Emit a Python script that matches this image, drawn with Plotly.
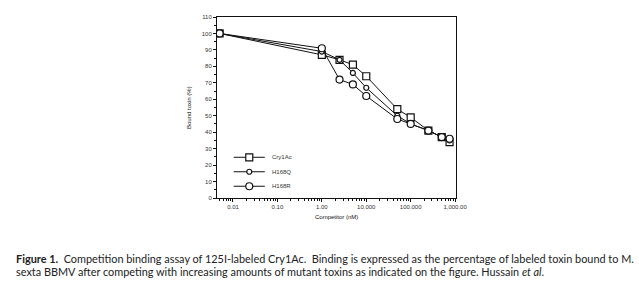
import plotly.graph_objects as go

x_conc = [0.005, 1, 2.5, 5, 10, 50, 100, 250, 500, 750]
cry1ac = [100, 87, 84, 81, 74, 54, 49, 41, 37, 34]
h168q = [100, 89, 84, 76, 67, 50, 45, 41, 37, 35]
h168r = [100, 91, 72, 69, 62, 48, 45, 41, 37, 36]

series_names = ["Cry1Ac", "H168Q", "H168R"]
x_tickvals = [0.01, 0.1, 1, 10, 100, 1000]
x_ticktext = ["0.01", "0.10", "1.00", "10.000", "100.000", "1,000.00"]
y_tickvals = list(range(0, 111, 10))

small = "Liberation Sans Narrow, Liberation Sans, Arial"
tick_font = dict(family=small, size=6, color="#333")

marker_styles = [dict(symbol="square", size=7), dict(symbol="circle", size=5), dict(symbol="circle", size=7)]

fig = go.Figure()
for name, ys, mk in zip(series_names, [cry1ac, h168q, h168r], marker_styles):
    fig.add_trace(go.Scatter(
        x=x_conc, y=ys, name=name, mode="lines+markers", showlegend=False,
        line=dict(color="#111", width=1),
        marker=dict(color="white", line=dict(color="#111", width=1.2), **mk),
    ))

# in-plot legend drawn on an overlay axis (0..1 units over the plot area)
leg_x0, leg_x1 = 0.07, 0.2
leg_rows = [0.225, 0.145, 0.065]
for name, mk, ly in zip(series_names, marker_styles, leg_rows):
    fig.add_trace(go.Scatter(
        x=[leg_x0, leg_x1], y=[ly, ly], mode="lines", xaxis="x2", yaxis="y2",
        line=dict(color="#111", width=1), showlegend=False, hoverinfo="skip"))
    fig.add_trace(go.Scatter(
        x=[(leg_x0 + leg_x1) / 2], y=[ly], mode="markers", xaxis="x2", yaxis="y2",
        marker=dict(color="white", line=dict(color="#111", width=1.2), **mk),
        showlegend=False, hoverinfo="skip"))
    fig.add_annotation(text=name, x=leg_x1 + 0.02, y=ly, xref="x2", yref="y2",
                       xanchor="left", yanchor="middle", showarrow=False,
                       font=dict(family=small, size=6, color="#333"))

fig.update_layout(
    width=639, height=281,
    margin=dict(l=217, r=183, t=17, b=83),
    paper_bgcolor="white", plot_bgcolor="white",
    showlegend=False,
    font=tick_font,
    xaxis=dict(
        type="log", range=[-2.36, 3.02],
        tickmode="array", tickvals=x_tickvals, ticktext=x_ticktext,
        ticks="outside", ticklen=3, tickcolor="#111", tickfont=tick_font,
        showline=True, linecolor="#111", linewidth=1, mirror=True,
        showgrid=False, zeroline=False,
        minor=dict(ticks="outside", ticklen=2, tickcolor="#111", dtick="D1", showgrid=False),
    ),
    yaxis=dict(
        range=[0, 110], tickmode="array", tickvals=y_tickvals,
        ticks="outside", ticklen=3, tickcolor="#111", tickfont=tick_font,
        showline=True, linecolor="#111", linewidth=1, mirror=True,
        showgrid=False, zeroline=False,
        minor=dict(ticks="outside", ticklen=2, tickcolor="#111", dtick=5, showgrid=False),
    ),
    xaxis2=dict(overlaying="x", range=[0, 1], visible=False),
    yaxis2=dict(overlaying="y", range=[0, 1], visible=False),
)

fig.add_annotation(text="Bound toxin (%)", xref="paper", yref="paper",
                   x=-0.14, y=0.5, textangle=-90, showarrow=False,
                   font=dict(family=small, size=6, color="#111"))
fig.add_annotation(text="Competitor (nM)", xref="paper", yref="paper",
                   x=0.5, y=-0.08, yanchor="top", showarrow=False,
                   font=dict(family=small, size=6, color="#111"))

cap_font = dict(family="Lato, Noto Sans", size=10.9, color="#222")
fig.add_annotation(text="<b>Figure 1.</b>  Competition binding assay of 125I-labeled Cry1Ac.  Binding is expressed as the percentage of labeled toxin bound to M.",
                   xref="paper", yref="paper", x=-203/239.3, y=-(258-198)/181, xanchor="left", yanchor="middle",
                   showarrow=False, font=cap_font, align="left")
fig.add_annotation(text="sexta BBMV after competing with increasing amounts of mutant toxins as indicated on the figure. Hussain <i>et al</i>.",
                   xref="paper", yref="paper", x=-203/239.3, y=-(271-198)/181, xanchor="left", yanchor="middle",
                   showarrow=False, font=cap_font, align="left")

fig.write_html("out.html", post_script="document.body.style.margin='0';",
               config={"displayModeBar": False})
